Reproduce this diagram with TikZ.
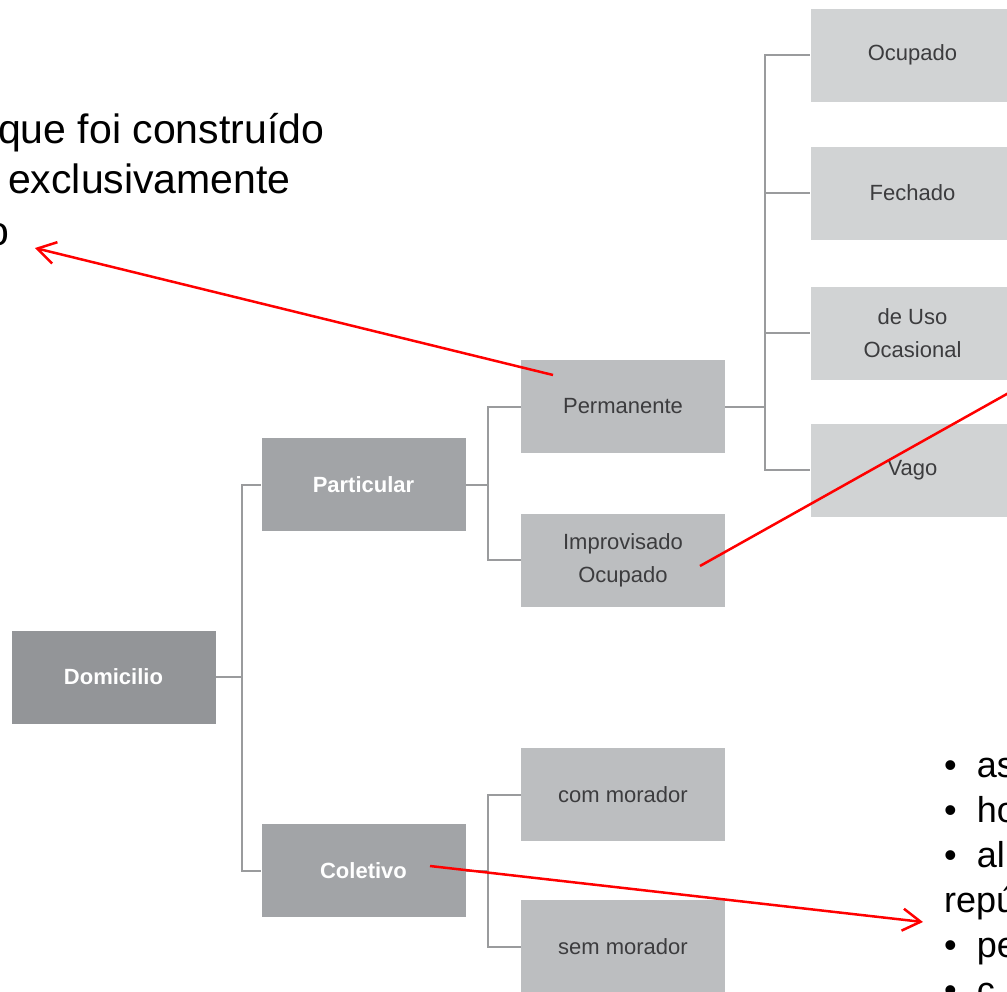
\documentclass[tikz,border=0pt]{standalone}
\usepackage{fontspec}
\setmainfont{Liberation Sans}
\usepackage{tikz}
\usetikzlibrary{arrows.meta}
\usepackage{xcolor}
\definecolor{darkbox}{HTML}{939598}
\definecolor{midbox}{HTML}{A2A4A7}
\definecolor{lightbox}{HTML}{BCBEC0}
\definecolor{paperbox}{HTML}{D1D3D4}
\definecolor{linegray}{HTML}{9A9B9D}
\definecolor{boxtext}{HTML}{3C3C3E}
\tikzset{%
	every box/.style={
		rectangle,
		minimum width=204pt,
		minimum height=93pt,
		inner sep=0pt,
		align=center,
		text=boxtext,
		font=\fontsize{22}{33}\selectfont
	},
	box dark/.style={every box, fill=darkbox, text=white, font=\fontsize{22}{33}\selectfont\bfseries},
	box mid/.style={every box, fill=midbox, text=white, font=\fontsize{22}{33}\selectfont\bfseries},
	box light/.style={every box, fill=lightbox},
	box pale/.style={every box, fill=paperbox},
	tree line/.style={draw=linegray, line width=2pt},
	red arrow/.style={draw=red, line width=2.5pt},
	note text/.style={inner sep=0pt, font=\fontsize{41}{50}\selectfont},
}

\begin{document}
\begin{tikzpicture}[x=1pt, y=-1pt]
			\useasboundingbox (0,0) rectangle (1007,991);
			\clip (0,0) rectangle (1007,991);
			
			% Draw the boxes
			\node[box dark] (dom) at (113.5,677) {Domicilio};
			\node[box mid] (part) at (363.5,484.5) {Particular};
			\node[box mid] (colet) at (363.5,870.5) {Coletivo};
			
			\node[box light] (perm) at (623,406.5) {Permanente};
			\node[box light] (impr) at (623,560) {Improvisado\\Ocupado};
			\node[box light] (com) at (623,794.5) {com morador};
			\node[box light] (sem) at (623,946.5) {sem morador};
			
			\node[box pale] (ocup) at (912.5,55) {Ocupado};
			\node[box pale] (fech) at (912.5,193) {Fechado};
			\node[box pale] (uso) at (912.5,333) {de Uso\\Ocasional};
			\node[box pale] (vago) at (912.5,470) {Vago};
			
			% Draw the tree lines
			\draw[tree line] (dom.east) -- ++(26.5,0) coordinate (jdom) |- (part.west);
			\draw[tree line] (jdom) |- (colet.west);
			\draw[tree line] (part.east) -- ++(22.5,0) coordinate (jpart) |- (perm.west);
			\draw[tree line] (jpart) |- (impr.west);
			\draw[tree line] (colet.east) -- ++(22.5,0) coordinate (jcolet) |- (com.west);
			\draw[tree line] (jcolet) |- (sem.west);
			\draw[tree line] (perm.east) -- ++(40,0) coordinate (jperm) |- (ocup.west);
			\draw[tree line] (jperm) |- (fech.west);
			\draw[tree line] (jperm) |- (uso.west);
			\draw[tree line] (jperm) |- (vago.west);
			
			% Notes at the sides
			\node[note text, anchor=base west] (noteA) at (-2,143) {que foi construído};
			\node[note text, anchor=base west] (noteB) at (8,193) {exclusivamente};
			\node[note text, anchor=base east] (noteC) at (10,245) {o};
			\node[inner sep=0pt, anchor=north west, align=left,
				font=\fontsize{36}{45}\selectfont] (bullets) at (944,758)
				{\textbullet\hspace{20pt}as\\ \textbullet\hspace{20pt}ho\\ \textbullet\hspace{20pt}al\\
				 repú\\ \textbullet\hspace{20pt}pe\\ \textbullet\hspace{20pt}c};
			
			% Red arrows
			\coordinate (permpt) at (553,375);
			\coordinate (notept) at (35,248);
			\draw[red arrow, -{Straight Barb[length=18pt,width=22pt]}] (permpt) -- (notept);
			
			\coordinate (imprpt) at (700,566);
			\coordinate (outpt) at (1030,381);
			\draw[red arrow] (imprpt) -- (outpt);
			
			\coordinate (coletpt) at (430,866);
			\coordinate (bulletpt) at (923,922);
			\draw[red arrow, -{Straight Barb[length=18pt,width=22pt]}] (coletpt) -- (bulletpt);
			
		\end{tikzpicture}
\end{document}
